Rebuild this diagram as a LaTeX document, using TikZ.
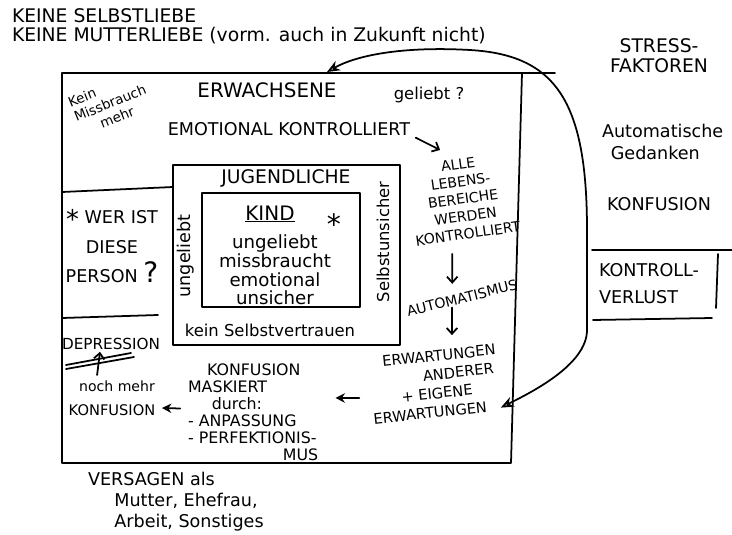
\documentclass[tikz,border=0pt]{standalone}
\usepackage{fontspec}
\setmainfont{DejaVu Sans}
\usetikzlibrary{arrows.meta}

\tikzset{
  pen/.style={line width=1.5pt, line cap=round, line join=round},
  txt/.style={inner sep=1pt, align=center},
  capsL/.style={txt, font=\fontsize{16}{19}\selectfont},
  caps/.style={txt, font=\fontsize{15}{17}\selectfont},
  capsS/.style={txt, font=\fontsize{13.5}{14.6}\selectfont},
  hand/.style={txt, font=\fontsize{14}{16}\selectfont},
  handS/.style={txt, font=\fontsize{12}{14}\selectfont},
  dn/.style={-{Straight Barb[length=5pt,width=9pt]}},
  lft/.style={-{Stealth[open,length=8pt,width=8pt]}},
  backarc/.style={{Stealth[open,length=11pt,width=9pt]}-{Stealth[open,length=11pt,width=9pt]}},
}

\begin{document}
\begin{tikzpicture}[x=0.03cm, y=-0.03cm, pen]
\useasboundingbox (0,0) rectangle (732,535);

% Rahmen
\draw (62,73) -- (555,73);
\draw (62,73) -- (62,463) -- (511,463) -- (522,73);
\draw (62,192) -- (173,187);
\draw (62,318) -- (158,315);
\draw (173,165) rectangle (400,345);
\draw (202,193) rectangle (360,307);
\draw (66,369) -- (134,357);
\draw (66,365) -- (131,353);
\draw (592,250) -- (732,250);
\draw (718,254) -- (716,308);
\draw (593,320) -- (712,318);

% oben
\node[caps, font=\fontsize{16}{18}\selectfont, anchor=west] (selbst) at (10,16) {KEINE SELBSTLIEBE};
\node[caps, font=\fontsize{16}{18}\selectfont, anchor=west] (mutter) at (10,36) {KEINE MUTTERLIEBE (vorm. auch in Zukunft nicht)};

% Erwachsene
\node[capsL, font=\fontsize{17}{19}\selectfont] (erwachsene) at (267,90) {ERWACHSENE};
\node[hand] (geliebt) at (429,95) {geliebt ?};
\node[handS, font=\fontsize{11.5}{13.5}\selectfont, rotate=22, align=left] (missbrauch) at (110,103) {Kein\\Missbrauch\\\hspace*{1.6em}mehr};
\node[caps] (emoKontr) at (289,129) {EMOTIONAL KONTROLLIERT};
\node[capsS, font=\fontsize{12}{15}\selectfont, rotate=8] (alle) at (463,199) {ALLE\\LEBENS-\\BEREICHE\\WERDEN\\KONTROLLIERT};
\node[capsS, font=\fontsize{12}{14}\selectfont, rotate=14] (automat) at (462,298) {AUTOMATISMUS};
\node[capsS, font=\fontsize{12.5}{16}\selectfont, rotate=6] (erwart) at (436,384) {\hspace*{0.8em}ERWARTUNGEN\\\hspace*{3.2em}ANDERER\\+ EIGENE\hspace*{1.4em}\\ERWARTUNGEN\hspace*{1.2em}};
\node[capsS, align=left, anchor=west] (konfMask) at (186,412) {\hspace*{1.2em}KONFUSION\\MASKIERT\\\hspace*{1.5em}durch:\\- ANPASSUNG\\- PERFEKTIONIS-\\\hspace*{6em}MUS};

% links
\node[caps, font=\fontsize{15}{25}\selectfont] (werIst) at (112,246) {\raisebox{-4pt}{\fontsize{22}{22}\selectfont *} WER IST\\DIESE\\PERSON {\fontsize{24}{24}\selectfont ?}};
\node[capsS, font=\fontsize{13}{15}\selectfont] (depression) at (111,344) {DEPRESSION};
\node[handS] (nochMehr) at (117,386) {noch mehr};
\node[capsS, font=\fontsize{12.5}{14}\selectfont] (konfL) at (112,410) {KONFUSION};

% Jugendliche / Kind
\node[capsL] (jugend) at (286,178) {JUGENDLICHE};
\node[hand, font=\fontsize{15}{17}\selectfont, rotate=90] (ungeliebtV) at (186,256) {ungeliebt};
\node[hand, rotate=90] (selbstU) at (383,242) {Selbstunsicher};
\node[hand] (keinSV) at (270,330) {kein Selbstvertrauen};
\node[capsL, font=\fontsize{17}{19}\selectfont] (kind) at (270,214) {\underline{KIND}};
\node[caps, font=\fontsize{24}{24}\selectfont] (stern) at (334,224) {*};
\node[hand, font=\fontsize{15.5}{16}\selectfont] (kindListe) at (275,270) {ungeliebt\\missbraucht\\emotional\\unsicher};

% rechts
\node[caps, font=\fontsize{16}{17}\selectfont] (stress) at (659,56) {STRESS-\\FAKTOREN};
\node[hand, font=\fontsize{15}{19}\selectfont, align=left, anchor=west] (gedanken) at (600,142) {Automatische\\\hspace*{0.5em}Gedanken};
\node[caps] (konfR) at (659,204) {KONFUSION};
\node[caps, font=\fontsize{15}{23}\selectfont, align=left, anchor=west] (kontroll) at (597,284) {KONTROLL-\\VERLUST};

% unten
\node[hand, font=\fontsize{15}{18}\selectfont, align=left, anchor=north west] (versagen) at (86,470) {VERSAGEN als\\\hspace*{1.5em}Mutter, Ehefrau,\\\hspace*{1.5em}Arbeit, Sonstiges};

% Pfeile
\draw[dn] ([xshift=3pt]emoKontr.south east) -- ([xshift=-14.5pt,yshift=6pt]alle.north);
\draw[dn] ([xshift=-14.3pt,yshift=-11pt]alle.south) -- ([xshift=-6.8pt,yshift=6pt]automat.north);
\draw[dn] ([xshift=-10pt,yshift=-2pt]automat.south) -- ([xshift=16.8pt,yshift=11.4pt]erwart.north);
\draw[lft] ([xshift=-8pt,yshift=-6pt]erwart.west) -- ([xshift=13pt,yshift=12pt]konfMask.east);
\draw[lft] ([xshift=-5pt,yshift=3pt]konfMask.west) -- ([xshift=4pt,yshift=1.7pt]konfL.east);
\draw[dn] ([xshift=-17pt,yshift=3pt]nochMehr.north) -- ([xshift=-9.4pt]depression.south);

\coordinate (boxTop) at (327,72);
\draw[backarc] ([xshift=-2.2pt,yshift=-26.2pt]erwart.east) .. controls (530,393) and (587,365) .. (587,330)
  -- (587,230) .. controls (587,100) and (555,55) .. (470,50) .. controls (400,46) and (355,56) .. (boxTop);
\end{tikzpicture}
\end{document}
